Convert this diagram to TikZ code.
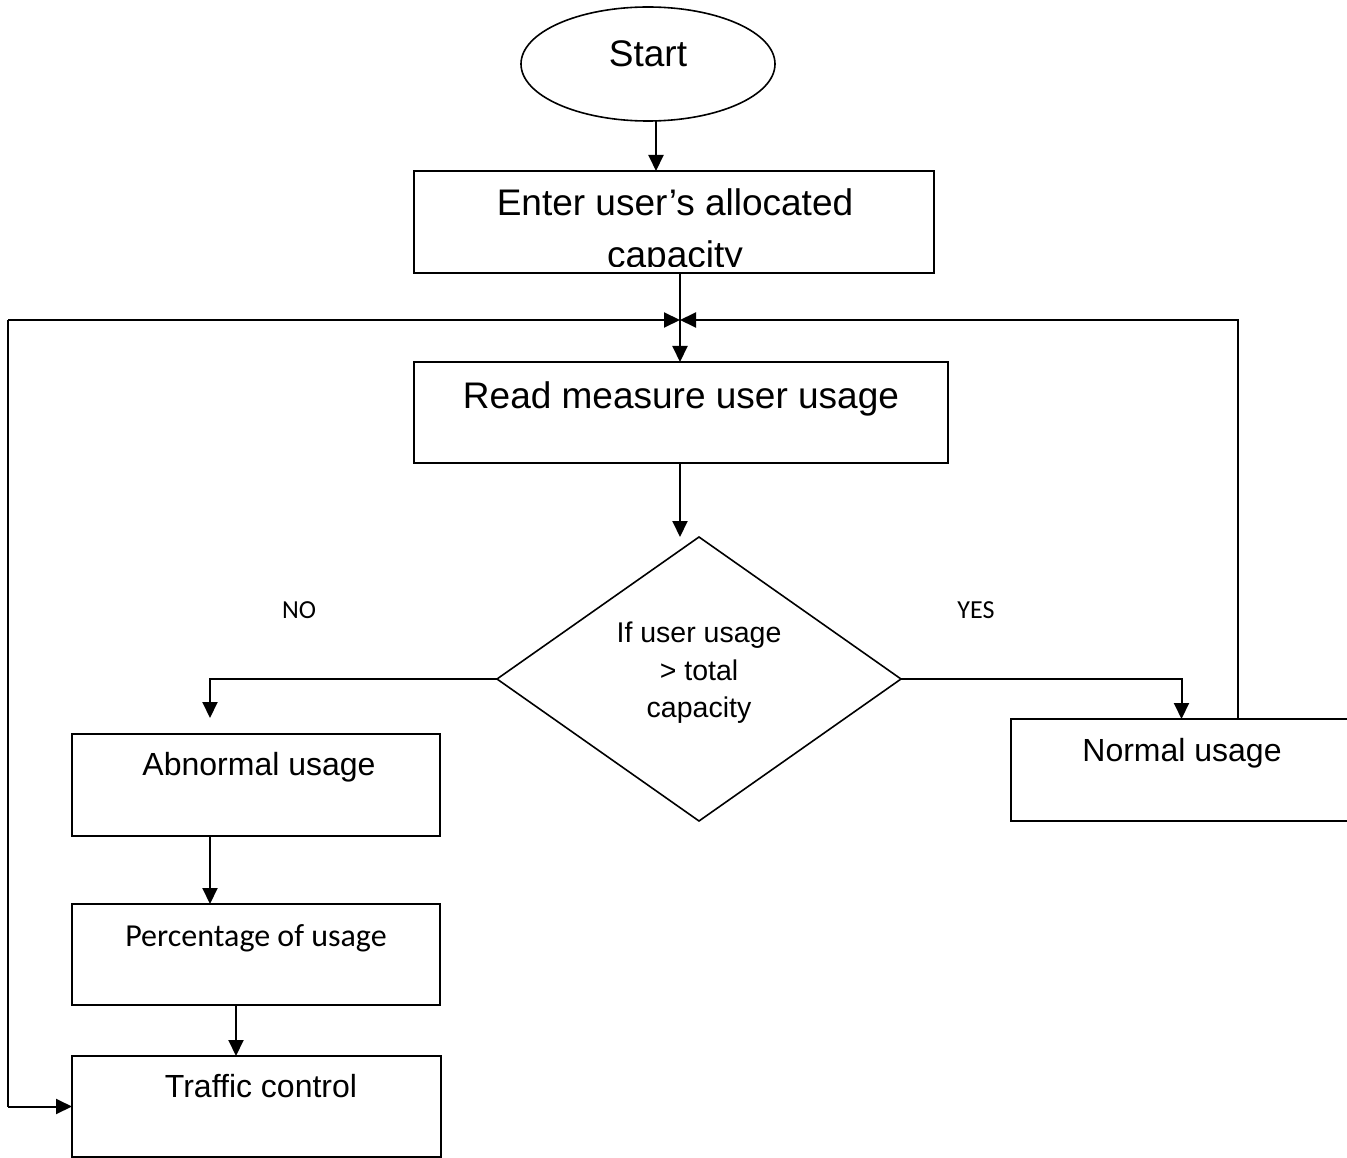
\documentclass[tikz,border=0pt]{standalone}
\usepackage{fontspec}
\setmainfont{Liberation Sans}
\newfontfamily\calfont{Carlito}
\usetikzlibrary{arrows.meta,shapes.geometric}
\tikzset{
  box/.style={draw, line width=1.8pt, rectangle, inner sep=0pt, outer sep=0pt},
  arr/.style={line width=2pt, -{Triangle[length=16pt,width=15pt]}},
  txt/.style={inner sep=0pt, outer sep=0pt, anchor=base},
  big/.style={font=\fontsize{37}{44}\selectfont},
  mid/.style={font=\fontsize{32}{38}\selectfont},
  dia/.style={font=\fontsize{28.5}{34}\selectfont},
  lab/.style={font=\calfont\fontsize{26}{31}\selectfont},
}
\begin{document}
\begin{tikzpicture}[x=1pt,y=-1pt]
\useasboundingbox (0,0) rectangle (1347,1158);
\fill[white] (0,0) rectangle (1347,1158);

% shapes
\node[draw, line width=1.6pt, ellipse, minimum width=254pt, minimum height=114pt, inner sep=0pt, outer sep=0pt] (start) at (648,64) {};
\node[txt, big] (starttxt) at (648,67) {Start};

\node[box, minimum width=520pt, minimum height=102pt] (enter) at (674,222) {};
\node[txt, big] (entertxt1) at (675,216) {Enter user’s allocated};
\begin{scope}
  \clip (414,171) rectangle (934,267);
  \node[txt, big] (entertxt2) at (675,268) {capacity};
\end{scope}

\node[box, minimum width=534pt, minimum height=101pt] (read) at (681,412.5) {};
\node[txt, big] (readtxt) at (681,408) {Read measure user usage};

\node[draw, line width=1.6pt, diamond, minimum width=404pt, minimum height=284pt, inner sep=0pt, outer sep=0pt] (dec) at (699,679) {};
\node[txt, dia] (dect1) at (699,642) {If user usage};
\node[txt, dia] (dect2) at (699,680) {> total};
\node[txt, dia] (dect3) at (699,717) {capacity};

\node[txt, lab] (no) at (299,618) {NO};
\node[txt, lab] (yes) at (976,618) {YES};

\node[box, minimum width=368pt, minimum height=102pt] (abn) at (256,785) {};
\node[txt, mid] (abntxt) at (259,775) {Abnormal usage};

\node[box, minimum width=341pt, minimum height=102pt] (normal) at (1181.5,770) {};
\node[txt, mid] (normaltxt) at (1182,761) {Normal usage};

\node[box, minimum width=368pt, minimum height=101pt] (pct) at (256,954.5) {};
\node[txt, font=\calfont\fontsize{32}{38}\selectfont] (pcttxt) at (256,946) {Percentage of usage};

\node[box, minimum width=369pt, minimum height=101pt] (trf) at (256.5,1106.5) {};
\node[txt, mid] (trftxt) at (261,1097) {Traffic control};

% coordinates
\coordinate (j) at (680,320);
\coordinate (ll) at (8,320);
\coordinate (rl) at (1238,320);
\coordinate (nopt) at (210,718);
\coordinate (px) at (236,1030);
\coordinate (sx) at (656,100);

% connectors
\draw[arr] (sx |- start.south) -- (sx |- enter.north);
\draw[arr] (j |- enter.south) -- (j |- read.north);
\draw[arr] (ll) -- (j);
\draw[arr] (rl |- normal.north) -- (rl) -- (j);
\draw[arr] (ll |- trf.west) -- (trf.west);
\draw[line width=2pt] (ll |- trf.west) -- (ll);
\draw[arr] (j |- read.south) -- (j |- dec.north);
\draw[arr] (dec.west) -| (nopt);
\draw[arr] (dec.east) -| (normal.north);
\draw[arr] (nopt |- abn.south) -- (nopt |- pct.north);
\draw[arr] (px |- pct.south) -- (px |- trf.north);
\end{tikzpicture}
\end{document}
